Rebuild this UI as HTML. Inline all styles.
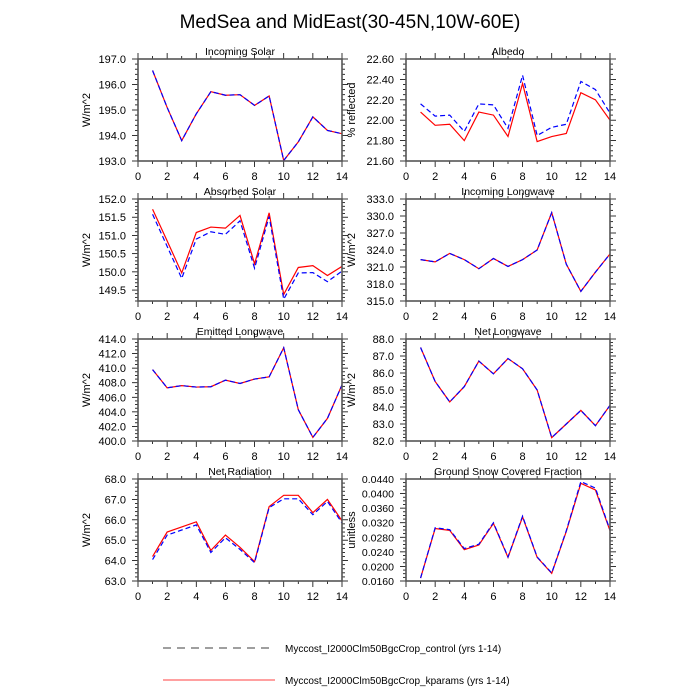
<!DOCTYPE html>
<html><head><meta charset="utf-8"><style>
body{margin:0;background:#fff;}
svg{display:block;font-family:"Liberation Sans",sans-serif;}
</style></head><body>
<svg id="s" width="700" height="700" xmlns="http://www.w3.org/2000/svg">
<text x="350" y="28" font-size="19" text-anchor="middle">MedSea and MidEast(30-45N,10W-60E)</text>
<line x1="163" y1="648" x2="275" y2="648" stroke="#000" stroke-width="0.8" stroke-dasharray="8,6"/>
<text x="285" y="652" font-size="10">Myccost_I2000Clm50BgcCrop_control (yrs 1-14)</text>
<line x1="163" y1="680" x2="275" y2="680" stroke="red" stroke-width="0.8"/>
<text x="285" y="684" font-size="10">Myccost_I2000Clm50BgcCrop_kparams (yrs 1-14)</text>
</svg>
<script>
var P=[
{t:"Incoming Solar",c:0,r:0,lo:193,hi:197,st:1,d:1,mn:5,yt:"W/m^2",
k:[196.55,195.1,193.8,194.85,195.72,195.58,195.6,195.18,195.55,193.02,193.75,194.73,194.2,194.07]},
{t:"Albedo",c:1,r:0,lo:21.6,hi:22.6,st:0.2,d:2,mn:4,yt:"% reflected",
k:[22.08,21.95,21.96,21.80,22.08,22.05,21.84,22.36,21.79,21.84,21.87,22.27,22.20,22.00],
b:[22.16,22.04,22.05,21.89,22.16,22.15,21.92,22.44,21.85,21.93,21.96,22.38,22.30,22.07]},
{t:"Absorbed Solar",c:0,r:1,lo:149.2,hi:152,st:0.5,s0:149.5,d:1,mn:5,yt:"W/m^2",
k:[151.72,150.85,149.97,151.08,151.23,151.2,151.55,150.22,151.62,149.38,150.12,150.17,149.9,150.15],
b:[151.58,150.7,149.82,150.9,151.1,151.03,151.4,150.1,151.52,149.25,149.97,149.98,149.73,150.02]},
{t:"Incoming Longwave",c:1,r:1,lo:315,hi:333,st:3,d:1,mn:3,yt:"W/m^2",
k:[322.3,321.9,323.4,322.3,320.7,322.5,321.1,322.3,324,330.6,321.5,316.7,320.1,323.3]},
{t:"Emitted Longwave",c:0,r:2,lo:400,hi:414,st:2,d:1,mn:4,yt:"W/m^2",
k:[409.8,407.3,407.6,407.4,407.45,408.35,407.9,408.5,408.8,412.8,404.3,400.5,403.1,407.7]},
{t:"Net Longwave",c:1,r:2,lo:82,hi:88,st:1,d:1,mn:5,yt:"W/m^2",
k:[87.5,85.5,84.3,85.2,86.7,85.95,86.85,86.25,85.0,82.2,83.0,83.8,82.9,84.1]},
{t:"Net Radiation",c:0,r:3,lo:63,hi:68,st:1,d:1,mn:5,yt:"W/m^2",
k:[64.2,65.4,65.65,65.9,64.5,65.25,64.65,63.95,66.65,67.2,67.2,66.35,67.0,65.95],
b:[64.05,65.25,65.5,65.75,64.4,65.12,64.55,63.9,66.6,67.03,67.03,66.25,66.9,65.85]},
{t:"Ground Snow Covered Fraction",c:1,r:3,lo:0.016,hi:0.044,st:0.004,d:4,mn:4,yt:"unitless",
k:[0.0168,0.0304,0.0299,0.0246,0.0259,0.0318,0.0225,0.0336,0.0225,0.0181,0.0296,0.0428,0.0410,0.0298],
b:[0.0168,0.0306,0.0301,0.0249,0.0261,0.0320,0.0226,0.0338,0.0226,0.0182,0.0298,0.0433,0.0415,0.0300]}
];
var h='';
var X0=[138,406],W=204,Y0=[59,199,339,479],H=102;
P.forEach(function(p){
 var x0=X0[p.c],y0=Y0[p.r];
 function fx(v){return x0+v/14*W}
 function fy(v){return y0+H-(v-p.lo)/(p.hi-p.lo)*H}
 h+='<text x="'+(x0+W/2)+'" y="'+(y0-4)+'" font-size="10.5" text-anchor="middle">'+p.t+'</text>';
 for(var i=0;i<=14;i++){var x=fx(i),L=i%2?3:6;
  h+='<line x1="'+x+'" y1="'+(y0+H)+'" x2="'+x+'" y2="'+(y0+H+L)+'" stroke="#000" stroke-width="0.8"/>';
  h+='<line x1="'+x+'" y1="'+y0+'" x2="'+x+'" y2="'+(y0-L)+'" stroke="#000" stroke-width="0.8"/>';
  if(i%2==0)h+='<text x="'+x+'" y="'+(y0+H+19)+'" font-size="11" text-anchor="middle">'+i+'</text>';}
 var s0=p.s0!==undefined?p.s0:p.lo, ms=p.st/p.mn;
 for(var v=s0-p.st;v<=p.hi+1e-9;v+=ms){ if(v<p.lo-1e-9)continue;
  var y=fy(v), maj=Math.abs(((v-s0)/p.st)-Math.round((v-s0)/p.st))<1e-6, L=maj?6:3;
  h+='<line x1="'+x0+'" y1="'+y+'" x2="'+(x0-L)+'" y2="'+y+'" stroke="#000" stroke-width="0.8"/>';
  h+='<line x1="'+(x0+W)+'" y1="'+y+'" x2="'+(x0+W+L)+'" y2="'+y+'" stroke="#000" stroke-width="0.8"/>';
  if(maj)h+='<text x="'+(x0-12)+'" y="'+(y+4)+'" font-size="'+(p.d==4?10.5:11)+'" text-anchor="end">'+v.toFixed(p.d)+'</text>';}
 var yc=y0+H/2;
 h+='<text transform="translate('+(p.c==0?90:355)+','+yc+') rotate(-90)" font-size="11" text-anchor="middle">'+p.yt+'</text>';
 function pl(a,col,dash){var s='';a.forEach(function(v,i){s+=fx(i+1)+','+fy(v)+' '});
  return '<polyline points="'+s+'" fill="none" stroke="'+col+'" stroke-width="1.2"'+(dash?' stroke-dasharray="5,3"':'')+'/>';}
 h+='<clipPath id="c'+p.c+p.r+'"><rect x="'+x0+'" y="'+y0+'" width="'+W+'" height="'+H+'"/></clipPath><g clip-path="url(#c'+p.c+p.r+')">';
 h+=pl(p.k,'red',false)+pl(p.b||p.k,'blue',true)+'</g>';
 h+='<rect x="'+x0+'" y="'+y0+'" width="'+W+'" height="'+H+'" fill="none" stroke="#555" stroke-width="1.6"/>';
});
document.getElementById('s').insertAdjacentHTML('beforeend',h);
</script>
</body></html>
